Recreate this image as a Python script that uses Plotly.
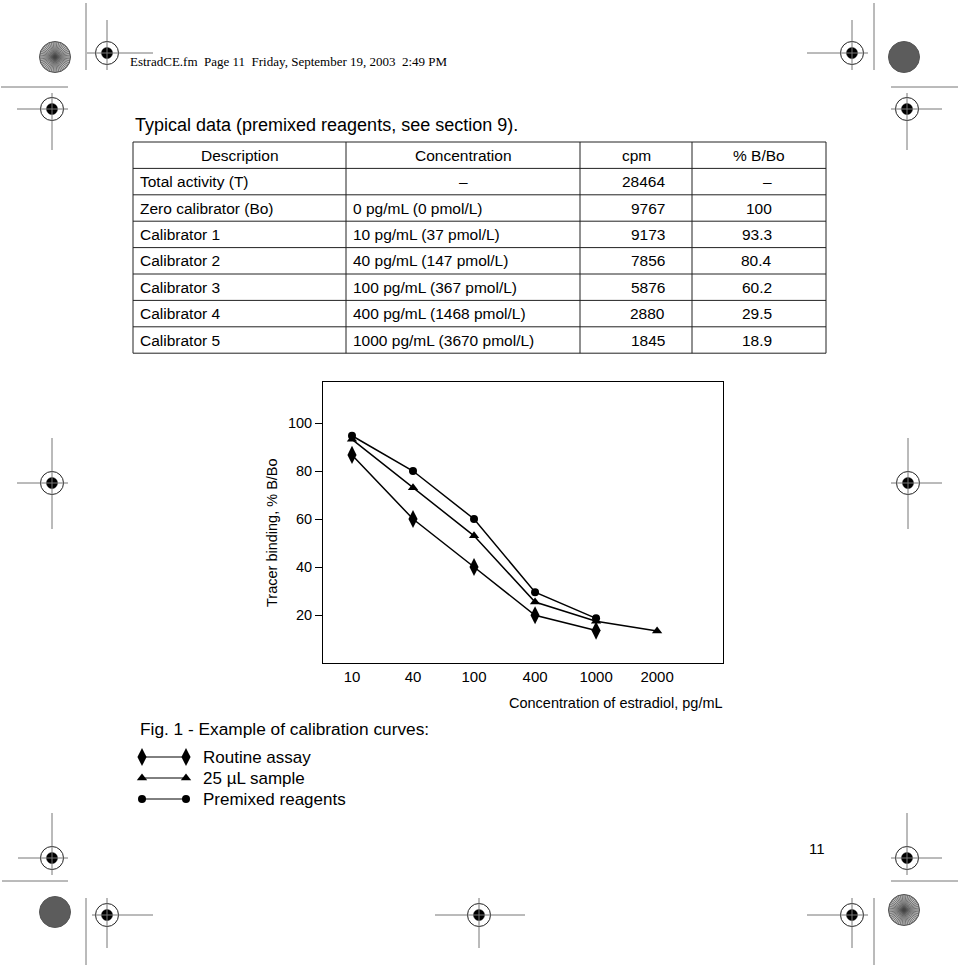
import math
import plotly.graph_objects as go

# ---------------- data ----------------
conc_labels = ["10", "40", "100", "400", "1000", "2000"]
routine_x = ["10", "40", "100", "400", "1000"]
routine_y = [86.7, 60.0, 40.0, 19.9, 13.5]
sample25_x = ["10", "40", "100", "400", "1000", "2000"]
sample25_y = [93.2, 73.0, 53.0, 25.4, 17.4, 13.3]
premixed_x = ["10", "40", "100", "400", "1000"]
premixed_y = [94.7, 80.0, 60.0, 29.5, 18.6]
y_ticks = [20, 40, 60, 80, 100]

table_header = ["Description", "Concentration", "cpm", "% B/Bo"]
table_desc = ["Total activity (T)", "Zero calibrator (Bo)", "Calibrator 1", "Calibrator 2",
              "Calibrator 3", "Calibrator 4", "Calibrator 5"]
table_conc = ["–", "0 pg/mL (0 pmol/L)", "10 pg/mL (37 pmol/L)", "40 pg/mL (147 pmol/L)",
              "100 pg/mL (367 pmol/L)", "400 pg/mL (1468 pmol/L)", "1000 pg/mL (3670 pmol/L)"]
table_cpm = ["28464", "9767", "9173", "7856", "5876", "2880", "1845"]
table_pct = ["–", "100", "93.3", "80.4", "60.2", "29.5", "18.9"]

legend_names = ["Routine assay", "25 µL sample", "Premixed reagents"]
header_text = "EstradCE.fm  Page 11  Friday, September 19, 2003  2:49 PM"
intro_text = "Typical data (premixed reagents, see section 9)."
fig_caption = "Fig. 1 - Example of calibration curves:"
x_title = "Concentration of estradiol, pg/mL"
y_title = "Tracer binding, % B/Bo"
page_number = "11"

# ---------------- layout constants ----------------
W, H = 960, 967
PX0, PX1, PY0, PY1 = 323, 723, 382, 663   # plot frame in pixels
SANS = "Liberation Sans, Arial, sans-serif"
SERIF = "Liberation Serif, Times New Roman, serif"
LINEC = "#777777"

fig = go.Figure()

styles = [
    dict(symbol="diamond-tall", size=13),
    dict(symbol="triangle-up", size=9),
    dict(symbol="circle", size=8),
]
series = [(routine_x, routine_y), (sample25_x, sample25_y), (premixed_x, premixed_y)]
for (xs, ys), st, nm in zip(series, styles, legend_names):
    fig.add_trace(go.Scatter(
        x=xs, y=ys, mode="lines+markers", name=nm,
        line=dict(color="black", width=1.5),
        marker=dict(color="black", **st),
        xaxis="x", yaxis="y", showlegend=False, cliponaxis=False,
    ))

# legend samples drawn on overlay (pixel) axes
leg_rows = [757, 778, 799]
for st, ly in zip(styles, leg_rows):
    fig.add_trace(go.Scatter(
        x=[142, 186], y=[ly, ly], mode="lines+markers",
        line=dict(color="black", width=1),
        marker=dict(color="black", **st),
        xaxis="x2", yaxis="y2", showlegend=False, hoverinfo="skip", cliponaxis=False,
    ))

shapes = []
annotations = []

def line(x0, y0, x1, y1, color=LINEC, width=1):
    shapes.append(dict(type="line", xref="x2", yref="y2", x0=x0, y0=y0, x1=x1, y1=y1,
                       line=dict(color=color, width=width), layer="above"))

def circle(cx, cy, r, fill=None, color="black", width=1):
    d = dict(type="circle", xref="x2", yref="y2", x0=cx - r, y0=cy - r, x1=cx + r, y1=cy + r,
             line=dict(color=color, width=width), layer="above")
    if fill:
        d["fillcolor"] = fill
    shapes.append(d)

def text(x, y, s, size, anchor="left", font=SANS, color="black", angle=0):
    annotations.append(dict(x=x, y=y, xref="x2", yref="y2", text=s, showarrow=False,
                            xanchor=anchor, yanchor="middle", textangle=angle,
                            borderpad=0, borderwidth=0,
                            font=dict(family=font, size=size, color=color)))

# registration marks
crosshairs = [
    (107, 53, 87, 153, 20, 70), (52, 109, 17, 68, 93, 150), (52, 483, 17, 68, 438, 529),
    (52, 858, 18, 68, 813, 875), (107, 915, 92, 153, 898, 948), (479, 915, 435, 525, 898, 948),
    (852, 915, 807, 868, 898, 948), (907, 858, 891, 942, 813, 875), (908, 483, 891, 942, 438, 529),
    (852, 53, 807, 868, 20, 70), (907, 109, 891, 942, 93, 150),
]
for cx, cy, hx0, hx1, vy0, vy1 in crosshairs:
    circle(cx, cy, 11.5, color="#222222", width=1)
    circle(cx, cy, 5.5, fill="black", color="black", width=0.5)
    line(hx0, cy, hx1, cy)
    line(cx, vy0, cx, vy1)

plain_lines = [(86, 3, 86, 70), (1, 87, 68, 87), (874, 3, 874, 70), (891, 87, 958, 87),
               (2, 881, 68, 881), (86, 898, 86, 965), (891, 881, 958, 881), (874, 898, 874, 965)]
for l in plain_lines:
    line(*l)

for cx, cy, r in [(904, 57, 15.5), (55, 912, 15.5)]:
    circle(cx, cy, r, fill="#5c5c5c", color="#555555", width=1)

for cx, cy, r in [(55, 57, 15.5), (904, 910, 15.5)]:
    circle(cx, cy, r, fill="#bdbdbd", color="#555555", width=1)
    path = ""
    n = 48
    for k in range(n):
        a = 2 * math.pi * k / n
        path += f"M {cx} {cy} L {cx + r * math.cos(a):.2f} {cy + r * math.sin(a):.2f} "
    shapes.append(dict(type="path", xref="x2", yref="y2", path=path,
                       line=dict(color="#444444", width=0.6), layer="above"))

# header / intro
text(130, 61, header_text, 13, font=SERIF)
text(135, 125, intro_text, 18)
text(817, 848, page_number, 15, anchor="center")

# table
tx0, tx1 = 133, 826
col_x = [133, 346, 580, 692, 826]
row_top, row_h = 142, 26.4
n_rows = 1 + len(table_desc)
for i in range(n_rows + 1):
    yy = row_top + i * row_h
    line(tx0, yy, tx1, yy, color="#222222", width=1)
for cx_ in col_x:
    line(cx_, row_top, cx_, row_top + n_rows * row_h, color="#222222", width=1)

hy = row_top + row_h / 2
for j, h in enumerate(table_header):
    text((col_x[j] + col_x[j + 1]) / 2, hy, h, 15.5, anchor="center")
for i in range(len(table_desc)):
    yy = row_top + (i + 1.5) * row_h
    text(140, yy, table_desc[i], 15.5)
    if table_conc[i] == "–":
        text((col_x[1] + col_x[2]) / 2, yy, table_conc[i], 15.5, anchor="center")
    else:
        text(353, yy, table_conc[i], 15.5)
    text(665, yy, table_cpm[i], 15.5, anchor="right")
    text(772, yy, table_pct[i], 15.5, anchor="right")

# chart titles
text(723, 703, x_title, 14.5, anchor="right")
annotations.append(dict(x=272, y=533, xref="x2", yref="y2", text=y_title, showarrow=False,
                        xanchor="center", yanchor="middle", textangle=-90,
                        borderpad=0, borderwidth=0,
                        font=dict(family=SANS, size=14.5, color="black")))

# legend
text(140, 729, fig_caption, 17.3)
for nm, ly in zip(legend_names, leg_rows):
    text(203, ly, nm, 17)

fig.update_layout(
    width=W, height=H, autosize=False,
    margin=dict(l=0, r=0, t=0, b=0),
    paper_bgcolor="white", plot_bgcolor="rgba(0,0,0,0)",
    showlegend=False,
    font=dict(family=SANS, color="black"),
    xaxis=dict(domain=[PX0 / W, PX1 / W], type="category", categoryorder="array",
               categoryarray=conc_labels, range=[-0.475, 6.08],
               showline=True, mirror=True, linecolor="black", linewidth=1,
               ticks="", showgrid=False, zeroline=False,
               tickfont=dict(family=SANS, size=15, color="black"), anchor="y"),
    yaxis=dict(domain=[1 - PY1 / H, 1 - PY0 / H], range=[0, 117.1], tickvals=y_ticks,
               showline=True, mirror=True, linecolor="black", linewidth=1,
               ticks="outside", ticklen=7, tickcolor="black", showgrid=False, zeroline=False,
               tickfont=dict(family=SANS, size=14.5, color="black"), anchor="x"),
    xaxis2=dict(domain=[0, 1], range=[0, W], visible=False, anchor="y2", fixedrange=True),
    yaxis2=dict(domain=[0, 1], range=[H, 0], visible=False, anchor="x2", fixedrange=True),
    shapes=shapes, annotations=annotations,
)

fig.write_html("out.html")
